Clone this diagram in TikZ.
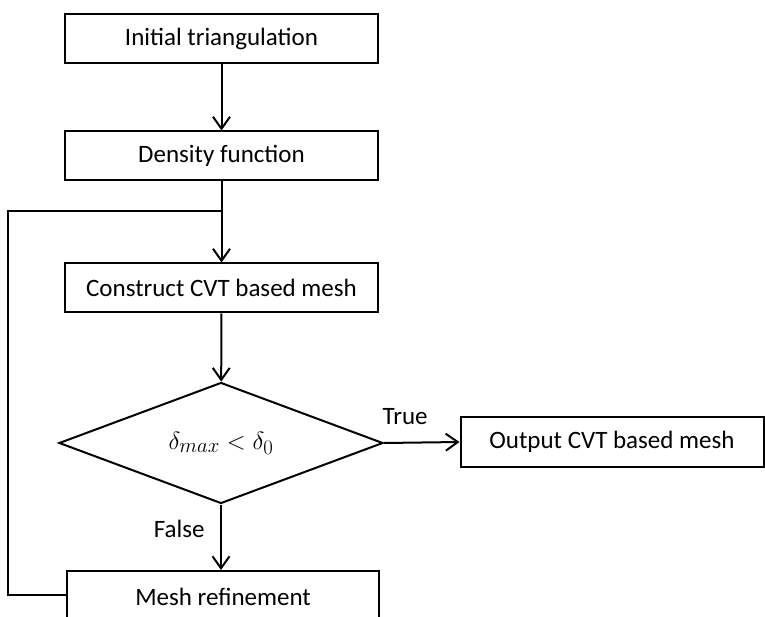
\documentclass[tikz,border=0pt]{standalone}
\usepackage{fontspec}
\setmainfont{Carlito}
\usetikzlibrary{arrows.meta,shapes.geometric}
\begin{document}
\begin{tikzpicture}[x=1pt,y=-1pt,
  box/.style={draw,line width=2pt,minimum width=313pt,minimum height=49pt,inner sep=0pt,font=\fontsize{25}{30}\selectfont},
  dec/.style={draw,line width=2pt,diamond,minimum width=324pt,minimum height=121pt,inner sep=0pt,aspect=2.68},
  conn/.style={line width=2pt},
  arr/.style={conn,-{Straight Barb[length=12pt,width=17pt,line width=2pt]}},
  lab/.style={font=\fontsize{25}{30}\selectfont}]
\useasboundingbox (0,0) rectangle (765,617);
\clip (0,0) rectangle (765,617);
\node[box] (init) at (221.5,38.5) {Initial triangulation};
\node[box] (dens) at (221.5,156) {Density function};
\node[box] (cvt) at (221.5,288) {Construct CVT based mesh};
\node[dec] (d) at (221,443) {\fontsize{30}{36}\selectfont$\delta_{max}<\delta_0$};
\node[box,minimum width=303pt,minimum height=50pt] (out) at (612,442) {Output CVT based mesh};
\node[box,minimum width=312pt,minimum height=52pt] (ref) at (223,597) {Mesh refinement};
\coordinate (j) at (221,211);
\coordinate (c1) at (8,211);
\coordinate (c2) at (8,595);
\draw[arr] (init) -- (dens);
\draw[arr] (dens) -- (cvt);
\draw[arr] (cvt) -- (d);
\draw[arr] (d.east) -- node[lab,above,pos=0.28,yshift=14pt] {True} (out.west);
\draw[arr] (d.south) -- node[lab,left,pos=0.38,xshift=-12pt] {False} (ref.north -| d.south);
\draw[conn] (ref.west |- c2) -- (c2) -- (c1) -- (j);
\end{tikzpicture}
\end{document}
